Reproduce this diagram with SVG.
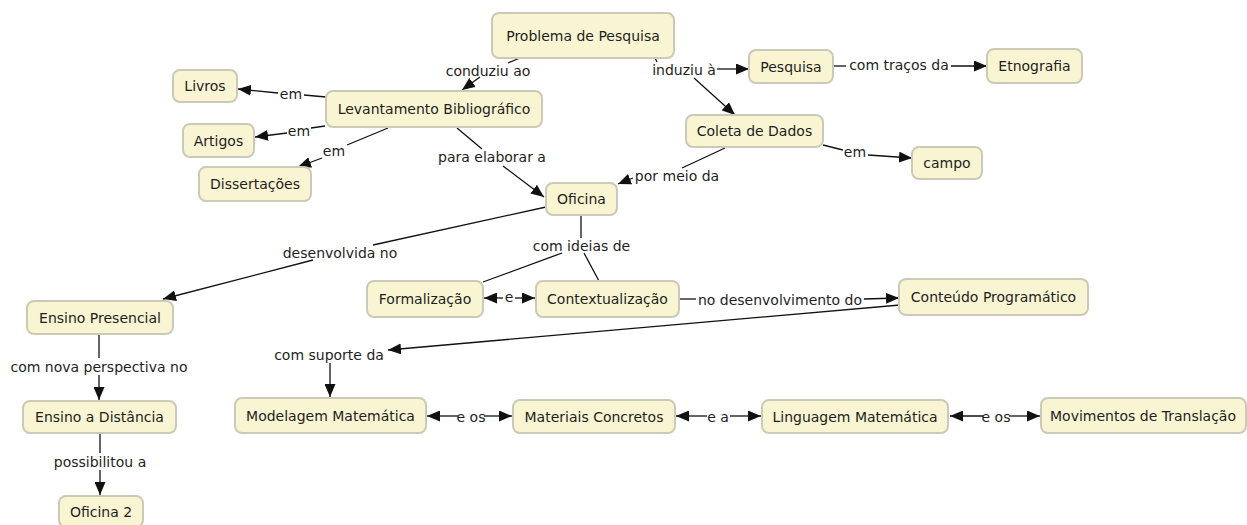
<svg xmlns="http://www.w3.org/2000/svg" width="1247" height="525" viewBox="0 0 1247 525">
<defs>
<marker id="arr" viewBox="0 0 13 11" refX="13" refY="5.5" markerWidth="13" markerHeight="11" markerUnits="userSpaceOnUse" orient="auto">
<path d="M0,0 L13,5.5 L0,11 z" fill="#111"/>
</marker>
<style>
.n rect{fill:#f9f5d3;stroke:#cbcab8;stroke-width:2}
.n text{font-family:"DejaVu Sans","Liberation Sans",sans-serif;font-size:14px;fill:#1e1e1e;text-anchor:middle}
.lbl{font-family:"DejaVu Sans","Liberation Sans",sans-serif;font-size:14px;fill:#1e1e1e;text-anchor:middle}
#links line{stroke:#111;stroke-width:1.3;fill:none}
#links line.a{marker-end:url(#arr)}
</style>
</defs>
<rect width="1247" height="525" fill="#ffffff"/>
<g id="links">
<line x1="520" y1="58" x2="508" y2="63"/>
<line class="a" x1="480" y1="77" x2="462" y2="90"/>
<line x1="655" y1="58" x2="657" y2="62"/>
<line class="a" x1="717" y1="69" x2="749" y2="69"/>
<line class="a" x1="694" y1="78" x2="735" y2="115"/>
<line x1="834" y1="66" x2="846" y2="66"/>
<line class="a" x1="951" y1="66" x2="987" y2="66"/>
<line x1="326" y1="97" x2="304" y2="95"/>
<line class="a" x1="278" y1="93" x2="238" y2="89"/>
<line x1="325" y1="126" x2="311" y2="128"/>
<line class="a" x1="287" y1="133" x2="255" y2="137"/>
<line x1="388" y1="128" x2="347" y2="145"/>
<line class="a" x1="322" y1="158" x2="298" y2="167"/>
<line x1="457" y1="128" x2="482" y2="149"/>
<line class="a" x1="503" y1="166" x2="544" y2="197"/>
<line x1="725" y1="148" x2="682" y2="168"/>
<line class="a" x1="633" y1="178" x2="618" y2="184"/>
<line x1="823" y1="145" x2="843" y2="150"/>
<line class="a" x1="868" y1="155" x2="912" y2="158"/>
<line x1="546" y1="207" x2="373" y2="245"/>
<line class="a" x1="313" y1="260" x2="163" y2="299"/>
<line x1="581" y1="215" x2="581" y2="238"/>
<line x1="562" y1="253" x2="483" y2="282"/>
<line x1="584" y1="253" x2="599" y2="281"/>
<line class="a" x1="503" y1="298" x2="484" y2="298"/>
<line class="a" x1="515" y1="298" x2="535" y2="298"/>
<line x1="680" y1="299" x2="696" y2="299"/>
<line class="a" x1="864" y1="299" x2="899" y2="298"/>
<line class="a" x1="900" y1="305" x2="388" y2="350"/>
<line class="a" x1="330" y1="363" x2="330" y2="397"/>
<line x1="99" y1="334" x2="99" y2="358"/>
<line class="a" x1="99" y1="375" x2="99" y2="400"/>
<line x1="100" y1="433" x2="100" y2="453"/>
<line class="a" x1="100" y1="470" x2="100" y2="495"/>
<line class="a" x1="458" y1="416" x2="427" y2="416"/>
<line class="a" x1="484" y1="416" x2="512" y2="416"/>
<line class="a" x1="707" y1="416" x2="676" y2="416"/>
<line class="a" x1="730" y1="416" x2="761" y2="416"/>
<line class="a" x1="983" y1="416" x2="950" y2="416"/>
<line class="a" x1="1009" y1="416" x2="1040" y2="416"/>
<text class="lbl" x="488" y="76">conduziu ao</text>
<text class="lbl" x="684" y="75">induziu à</text>
<text class="lbl" x="899" y="70">com traços da</text>
<text class="lbl" x="291" y="99">em</text>
<text class="lbl" x="299" y="136">em</text>
<text class="lbl" x="334" y="156">em</text>
<text class="lbl" x="492" y="162">para elaborar a</text>
<text class="lbl" x="677" y="181">por meio da</text>
<text class="lbl" x="855" y="157">em</text>
<text class="lbl" x="340" y="258">desenvolvida no</text>
<text class="lbl" x="581.5" y="251">com ideias de</text>
<text class="lbl" x="509" y="302">e</text>
<text class="lbl" x="780" y="305">no desenvolvimento do</text>
<text class="lbl" x="329" y="360">com suporte da</text>
<text class="lbl" x="99" y="372">com nova perspectiva no</text>
<text class="lbl" x="100" y="467">possibilitou a</text>
<text class="lbl" x="471" y="422">e os</text>
<text class="lbl" x="718" y="422">e a</text>
<text class="lbl" x="996" y="422">e os</text>
</g>
<g id="n-problema" class="n"><rect x="492" y="13" width="182" height="45" rx="7"/><text x="583" y="40.5">Problema de Pesquisa</text></g>
<g id="n-pesquisa" class="n"><rect x="749" y="50" width="84" height="33" rx="7"/><text x="791" y="71.5">Pesquisa</text></g>
<g id="n-etnografia" class="n"><rect x="987" y="49" width="95" height="34" rx="7"/><text x="1034.5" y="71">Etnografia</text></g>
<g id="n-levantamento" class="n"><rect x="326" y="91" width="216" height="36" rx="7"/><text x="434" y="114">Levantamento Bibliográfico</text></g>
<g id="n-livros" class="n"><rect x="173" y="70" width="64" height="32" rx="7"/><text x="205" y="91">Livros</text></g>
<g id="n-artigos" class="n"><rect x="183" y="124" width="71" height="33" rx="7"/><text x="218.5" y="145.5">Artigos</text></g>
<g id="n-dissertacoes" class="n"><rect x="199" y="167" width="112" height="34" rx="7"/><text x="255" y="189">Dissertações</text></g>
<g id="n-coleta" class="n"><rect x="686" y="115" width="137" height="32" rx="7"/><text x="754.5" y="136">Coleta de Dados</text></g>
<g id="n-campo" class="n"><rect x="912" y="147" width="70" height="32" rx="7"/><text x="947" y="168">campo</text></g>
<g id="n-oficina" class="n"><rect x="546" y="183" width="71" height="32" rx="7"/><text x="581.5" y="204">Oficina</text></g>
<g id="n-formalizacao" class="n"><rect x="367" y="281" width="116" height="36" rx="7"/><text x="425" y="304">Formalização</text></g>
<g id="n-contextualizacao" class="n"><rect x="536" y="281" width="143" height="36" rx="7"/><text x="607.5" y="304">Contextualização</text></g>
<g id="n-conteudo" class="n"><rect x="899" y="279" width="189" height="36" rx="7"/><text x="993.5" y="302">Conteúdo Programático</text></g>
<g id="n-presencial" class="n"><rect x="27" y="301" width="146" height="33" rx="7"/><text x="100" y="322.5">Ensino Presencial</text></g>
<g id="n-distancia" class="n"><rect x="23" y="401" width="153" height="32" rx="7"/><text x="99.5" y="422">Ensino a Distância</text></g>
<g id="n-oficina2" class="n"><rect x="59" y="496" width="84" height="31" rx="7"/><text x="101" y="516.5">Oficina 2</text></g>
<g id="n-modelagem" class="n"><rect x="235" y="398" width="191" height="35" rx="7"/><text x="330.5" y="420.5">Modelagem Matemática</text></g>
<g id="n-materiais" class="n"><rect x="513" y="400" width="162" height="33" rx="7"/><text x="594" y="421.5">Materiais Concretos</text></g>
<g id="n-linguagem" class="n"><rect x="762" y="400" width="186" height="33" rx="7"/><text x="855" y="421.5">Linguagem Matemática</text></g>
<g id="n-movimentos" class="n"><rect x="1041" y="398" width="205" height="35" rx="7"/><text x="1143" y="420.5">Movimentos de Translação</text></g>
</svg>
